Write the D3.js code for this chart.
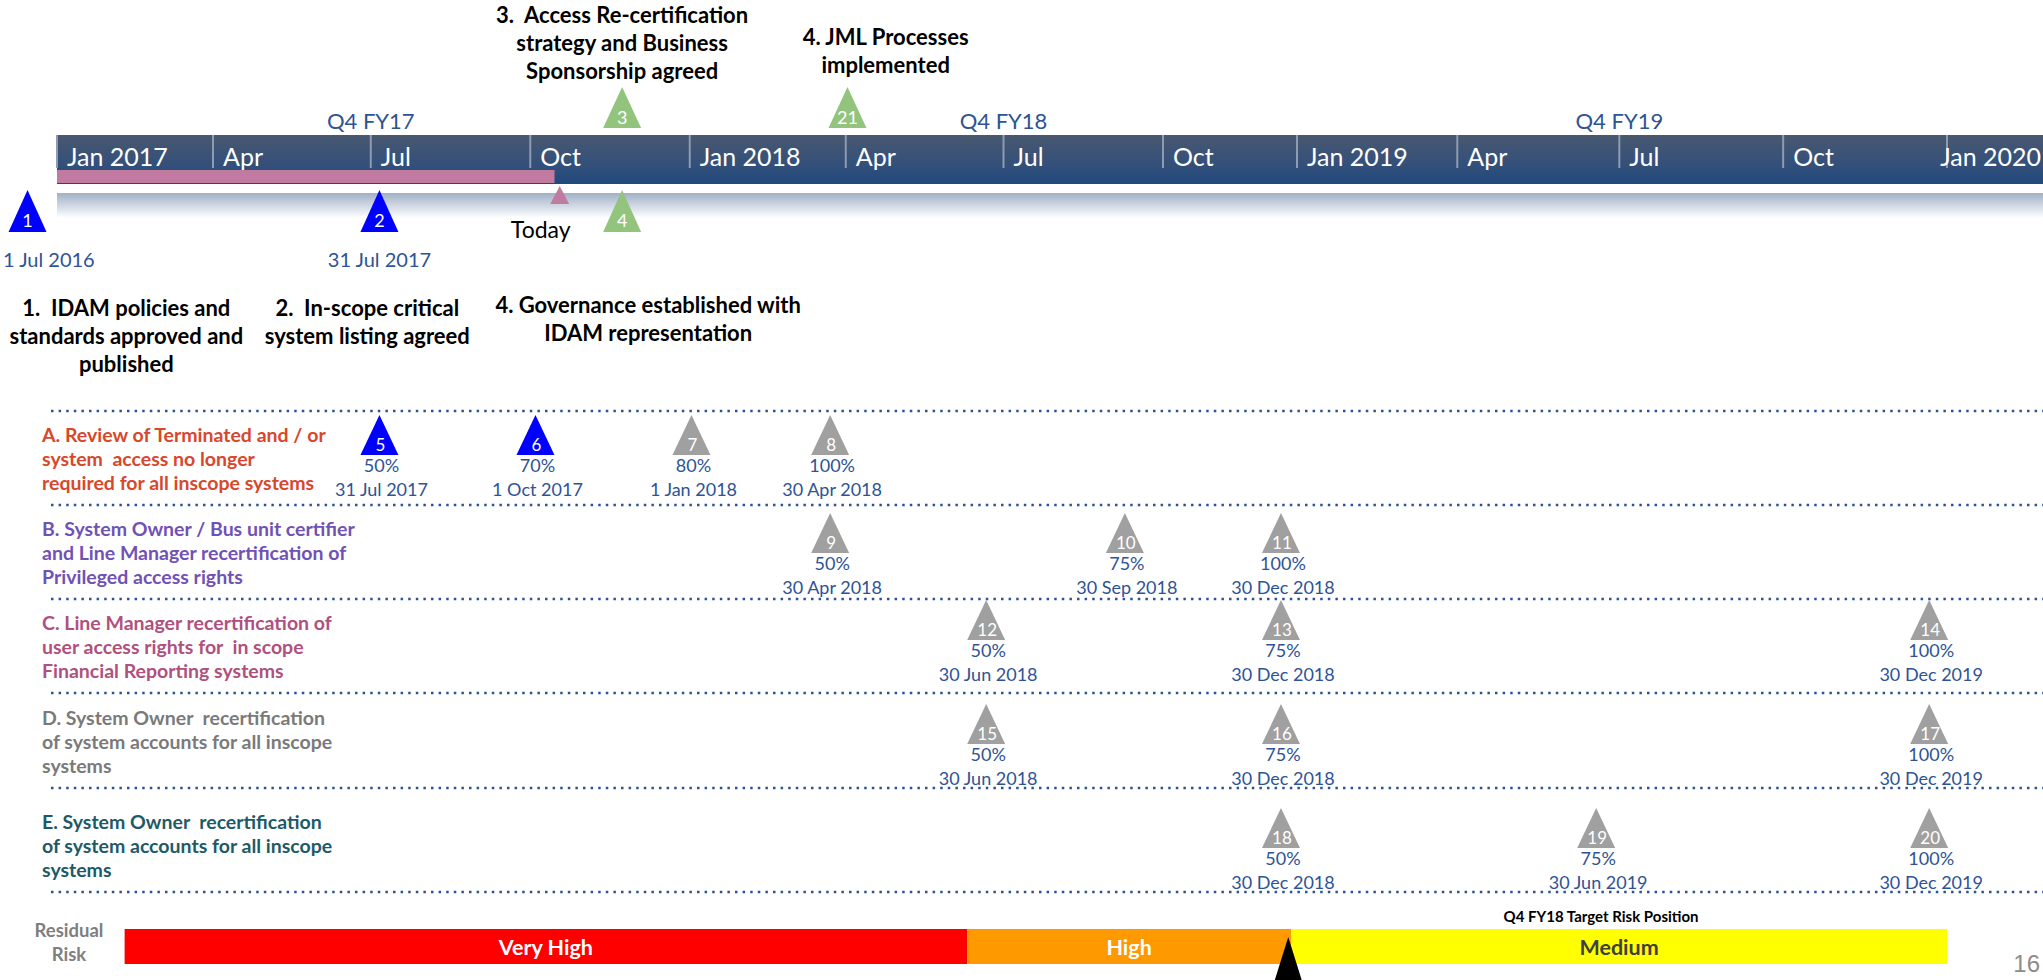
<!DOCTYPE html>
<html>
<head>
<meta charset="utf-8">
<script src="https://cdn.jsdelivr.net/npm/d3@7"></script>
<style>
  body { margin: 0; background: #fff; }
  svg text { font-family: Lato, "Open Sans", sans-serif; white-space: pre; }
</style>
</head>
<body>
<script>
// ---- data -------------------------------------------------------------

// quarter boundaries that anchor the timeline band
var axisKnots = ["2017-01-01", "2018-10-01", "2019-01-01", "2020-01-01"];

// fiscal quarter markers above the band
var fiscalLabels = ["Q4 FY17", "Q4 FY18", "Q4 FY19"];
var fiscalDates = ["2017-07-01", "2018-07-01", "2019-07-01"];

// progress to date
var progressEnd = "2017-10-15";
var todayDate = "2017-10-18";

// phase milestones around the timeline band
var phaseIds = [1, 2, 4, 3, 21];
var phaseDates = ["2016-12-15", "2017-07-06", "2017-11-23", "2017-11-23", "2018-04-02"];
var phaseDateText = ["1 Jul 2016", "31 Jul 2017", "", "", ""];
var phaseSide = ["below", "below", "below", "above", "above"];
var phaseDone = [true, true, false, false, false];

// milestone descriptions
var noteLines = [
  ["3.  Access Re-certification", "strategy and Business", "Sponsorship agreed"],
  ["4. JML Processes", "implemented"],
  ["1.  IDAM policies and", "standards approved and", "published"],
  ["2.  In-scope critical", "system listing agreed"],
  ["4. Governance established with", "IDAM representation"]
];
var noteDates = ["2017-11-23", "2018-04-24", "2017-02-10", "2017-06-29", "2017-12-08"];

// workstreams
var rowIds = ["A", "B", "C", "D", "E"];
var rowTitles = [
  ["A. Review of Terminated and / or", "system  access no longer", "required for all inscope systems"],
  ["B. System Owner / Bus unit certifier", "and Line Manager recertification of", "Privileged access rights"],
  ["C. Line Manager recertification of", "user access rights for  in scope", "Financial Reporting systems"],
  ["D. System Owner  recertification", "of system accounts for all inscope", "systems"],
  ["E. System Owner  recertification", "of system accounts for all inscope", "systems"]
];

// workstream milestones
var msIds = [5, 6, 7, 8, 9, 10, 11, 12, 13, 14, 15, 16, 17, 18, 19, 20];
var msRow = ["A", "A", "A", "A", "B", "B", "B", "C", "C", "C", "D", "D", "D", "E", "E", "E"];
var msDates = ["2017-07-06", "2017-10-04", "2018-01-02", "2018-03-23",
               "2018-03-23", "2018-09-09", "2018-12-21",
               "2018-06-21", "2018-12-21", "2019-12-22",
               "2018-06-21", "2018-12-21", "2019-12-22",
               "2018-12-21", "2019-06-18", "2019-12-22"];
var msPct = ["50%", "70%", "80%", "100%", "50%", "75%", "100%", "50%", "75%", "100%",
             "50%", "75%", "100%", "50%", "75%", "100%"];
var msDateText = ["31 Jul 2017", "1 Oct 2017", "1 Jan 2018", "30 Apr 2018",
                  "30 Apr 2018", "30 Sep 2018", "30 Dec 2018",
                  "30 Jun 2018", "30 Dec 2018", "30 Dec 2019",
                  "30 Jun 2018", "30 Dec 2018", "30 Dec 2019",
                  "30 Dec 2018", "30 Jun 2019", "30 Dec 2019"];
var msDone = [true, true, false, false, false, false, false, false, false, false,
              false, false, false, false, false, false];

// residual risk
var riskLevels = ["Very High", "High", "Medium"];
var riskStarts = ["2017-02-09", "2018-06-10", "2018-12-28"];
var riskEnds = ["2018-06-10", "2018-12-28", "2020-01-01"];
var targetDate = "2018-12-26";
var targetLabel = "Q4 FY18 Target Risk Position";
var pageNumber = "16";

// ---- setup ------------------------------------------------------------
var width = 2043, height = 980;
var parse = d3.timeParse("%Y-%m-%d");

var x = d3.scaleTime()
    .domain(axisKnots.map(parse))
    .range([57, 1163, 1297, 1947]);

var svg = d3.select("body").append("svg")
    .attr("width", width)
    .attr("height", height);

var defs = svg.append("defs");
var bandGrad = defs.append("linearGradient").attr("id", "band")
    .attr("x1", 0).attr("y1", 0).attr("x2", 0).attr("y2", 1);
bandGrad.append("stop").attr("offset", 0).attr("stop-color", "#485870");
bandGrad.append("stop").attr("offset", 0.6).attr("stop-color", "#34507a");
bandGrad.append("stop").attr("offset", 1).attr("stop-color", "#1f497d");
var stripGrad = defs.append("linearGradient").attr("id", "strip")
    .attr("x1", 0).attr("y1", 0).attr("x2", 0).attr("y2", 1);
stripGrad.append("stop").attr("offset", 0).attr("stop-color", "#a0b0c7");
stripGrad.append("stop").attr("offset", 1).attr("stop-color", "#ffffff");

var blue = "#2e5395";
var triColor = {blue: "#0000ff", green: "#93c47d", gray: "#a0a0a0"};

// triangle with apex at (cx, top)
function tri(cx, top, w, h) {
  return d3.line()([[cx, top], [cx + w / 2, top + h], [cx - w / 2, top + h]]) + "Z";
}

// ---- timeline band ----------------------------------------------------
var x0 = x.range()[0];
svg.append("rect")
    .attr("x", x0).attr("y", 135)
    .attr("width", width - x0).attr("height", 49)
    .attr("fill", "url(#band)");

svg.append("rect")
    .attr("x", x0).attr("y", 193)
    .attr("width", width - x0).attr("height", 25)
    .attr("fill", "url(#strip)");

var ticks = x.ticks(d3.timeMonth.every(3));
var fmt = function(d) { return d.getMonth() === 0 ? d3.timeFormat("%b %Y")(d) : d3.timeFormat("%b")(d); };

svg.selectAll(".sep")
  .data(ticks)
  .enter().append("line")
    .attr("class", "sep")
    .attr("x1", d => x(d)).attr("x2", d => x(d))
    .attr("y1", 135).attr("y2", 168)
    .attr("stroke", "#8e9bb0")
    .attr("stroke-width", 2);

svg.selectAll(".tick-label")
  .data(ticks)
  .enter().append("text")
    .attr("class", "tick-label")
    .attr("y", 166)
    .attr("fill", "#fff")
    .attr("font-size", 25)
    .text(fmt)
    .attr("x", function(d) {
      var w = this.getComputedTextLength();
      return Math.min(x(d) + 10, width - w - 2);
    });

// progress bar up to today
svg.append("rect")
    .attr("x", x0).attr("y", 170)
    .attr("width", x(parse(progressEnd)) - x0).attr("height", 13)
    .attr("fill", "#c27ba0");

svg.append("path")
    .attr("d", tri(x(parse(todayDate)), 186, 19, 18))
    .attr("fill", "#c27ba0");
svg.append("text")
    .attr("x", x(parse(todayDate)) - 19).attr("y", 238)
    .attr("text-anchor", "middle")
    .attr("font-size", 23)
    .attr("fill", "#000")
    .text("Today");

// fiscal quarter labels
svg.selectAll(".fy")
  .data(fiscalLabels)
  .enter().append("text")
    .attr("class", "fy")
    .attr("x", (d, i) => x(parse(fiscalDates[i])))
    .attr("y", 129)
    .attr("text-anchor", "middle")
    .attr("font-size", 22)
    .attr("fill", blue)
    .text(d => d);

// ---- phase milestones --------------------------------------------------
var phases = phaseIds.map((id, i) => ({
  id: id, date: parse(phaseDates[i]), text: phaseDateText[i], side: phaseSide[i], done: phaseDone[i]
}));

var ph = svg.selectAll(".phase")
  .data(phases)
  .enter().append("g")
    .attr("class", "phase");

ph.append("path")
    .attr("d", d => d.side === "above" ? tri(x(d.date), 87, 38, 41) : tri(x(d.date), 190, 38, 42))
    .attr("fill", d => d.done ? triColor.blue : triColor.green);

ph.append("text")
    .attr("x", d => x(d.date))
    .attr("y", d => d.side === "above" ? 124 : 227)
    .attr("text-anchor", "middle")
    .attr("font-size", 18)
    .attr("fill", "#fff")
    .text(d => d.id);

ph.filter(d => d.text)
  .append("text")
    .attr("y", 267)
    .attr("text-anchor", "middle")
    .attr("font-size", 20)
    .attr("fill", blue)
    .text(d => d.text)
    .attr("x", function(d) {
      var half = this.getComputedTextLength() / 2;
      return Math.max(x(d.date), half + 3);
    });

// milestone descriptions
var noteY = [23, 45, 316, 316, 313];
noteLines.forEach(function(lines, i) {
  svg.append("text")
      .attr("text-anchor", "middle")
      .attr("font-size", 22)
      .attr("font-weight", "bold")
      .attr("fill", "#000")
    .selectAll("tspan")
    .data(lines)
    .enter().append("tspan")
      .attr("x", x(parse(noteDates[i])))
      .attr("y", (d, j) => noteY[i] + j * 28)
      .text(d => d);
});

// ---- workstream rows --------------------------------------------------
var rowTop = d3.scaleOrdinal().domain(rowIds).range([411, 505, 599, 693, 788]);
var rowBottom = 892;
var markerTop = d3.scaleOrdinal().domain(rowIds).range([415, 513, 600, 704, 808]);
var titleTop = d3.scaleOrdinal().domain(rowIds).range([442, 536, 630, 725, 829]);
var rowColor = d3.scaleOrdinal().domain(rowIds)
    .range(["#d9472b", "#7151b5", "#b0507e", "#7a7a7a", "#1e5a66"]);

svg.selectAll(".grid")
  .data(rowIds.map(rowTop).concat([rowBottom]))
  .enter().append("line")
    .attr("class", "grid")
    .attr("x1", 51).attr("x2", width)
    .attr("y1", d => d).attr("y2", d => d)
    .attr("stroke", blue)
    .attr("stroke-width", 2.5)
    .attr("stroke-dasharray", "2.5 5.1");

rowIds.forEach(function(r, i) {
  svg.append("text")
      .attr("font-size", 19.5)
      .attr("font-weight", "bold")
      .attr("fill", rowColor(r))
    .selectAll("tspan")
    .data(rowTitles[i])
    .enter().append("tspan")
      .attr("x", 42)
      .attr("y", (d, j) => titleTop(r) + j * 24)
      .text(d => d);
});

var ms = msIds.map((id, i) => ({
  id: id, row: msRow[i], date: parse(msDates[i]), pct: msPct[i], text: msDateText[i], done: msDone[i]
}));

var mg = svg.selectAll(".ms")
  .data(ms)
  .enter().append("g")
    .attr("class", "ms");

mg.append("path")
    .attr("d", d => tri(x(d.date), markerTop(d.row), 38, 40))
    .attr("fill", d => d.done ? triColor.blue : triColor.gray);

mg.append("text")
    .attr("x", d => x(d.date) + 1)
    .attr("y", d => markerTop(d.row) + 36)
    .attr("text-anchor", "middle")
    .attr("font-size", 17)
    .attr("fill", "#fff")
    .text(d => d.id);

mg.append("text")
    .attr("x", d => x(d.date) + 2)
    .attr("y", d => markerTop(d.row) + 57)
    .attr("text-anchor", "middle")
    .attr("font-size", 18)
    .attr("fill", blue)
    .text(d => d.pct);

mg.append("text")
    .attr("x", d => x(d.date) + 2)
    .attr("y", d => markerTop(d.row) + 81)
    .attr("text-anchor", "middle")
    .attr("font-size", 18)
    .attr("fill", blue)
    .text(d => d.text);

// ---- residual risk ----------------------------------------------------
var riskColor = d3.scaleOrdinal().domain(riskLevels).range(["#ff0000", "#ff9900", "#ffff00"]);
var riskText = d3.scaleOrdinal().domain(riskLevels).range(["#fff", "#fff", "#404040"]);

var risks = riskLevels.map((r, i) => ({level: r, start: parse(riskStarts[i]), end: parse(riskEnds[i])}));

svg.selectAll(".risk")
  .data(risks)
  .enter().append("rect")
    .attr("class", "risk")
    .attr("x", d => x(d.start))
    .attr("y", 929)
    .attr("width", d => x(d.end) - x(d.start))
    .attr("height", 35)
    .attr("fill", d => riskColor(d.level));

svg.selectAll(".risk-label")
  .data(risks)
  .enter().append("text")
    .attr("class", "risk-label")
    .attr("x", d => (x(d.start) + x(d.end)) / 2)
    .attr("y", 955)
    .attr("text-anchor", "middle")
    .attr("font-size", 21.5)
    .attr("font-weight", "bold")
    .attr("fill", d => riskText(d.level))
    .text(d => d.level);

svg.append("text")
    .attr("text-anchor", "middle")
    .attr("font-size", 18.5)
    .attr("font-weight", "bold")
    .attr("fill", "#7f7f7f")
  .selectAll("tspan")
  .data(["Residual", "Risk"])
  .enter().append("tspan")
    .attr("x", 69)
    .attr("y", (d, j) => 937 + j * 24)
    .text(d => d);

var medium = risks[2];
svg.append("text")
    .attr("x", (x(medium.start) + x(medium.end)) / 2 - 18)
    .attr("y", 922)
    .attr("text-anchor", "middle")
    .attr("font-size", 15)
    .attr("font-weight", "bold")
    .attr("fill", "#000")
    .text(targetLabel);

svg.append("path")
    .attr("d", tri(x(parse(targetDate)), 937, 30, 48))
    .attr("fill", "#000");

svg.append("text")
    .attr("x", width - 3)
    .attr("y", 972)
    .attr("text-anchor", "end")
    .style("font-family", "'Liberation Sans', Arial, sans-serif")
    .attr("font-size", 24)
    .attr("fill", "#8c8c8c")
    .text(pageNumber);
</script>
</body>
</html>
